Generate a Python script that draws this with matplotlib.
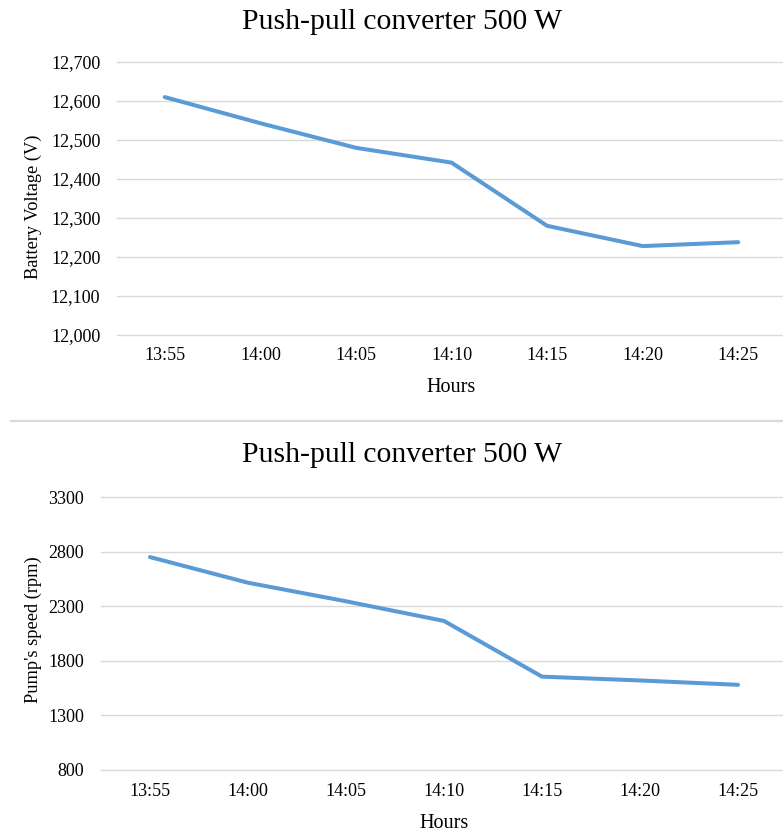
import matplotlib
matplotlib.use("Agg")
import matplotlib.pyplot as plt
from matplotlib.lines import Line2D
from matplotlib.ticker import FuncFormatter

plt.rcParams['font.family'] = ['Liberation Serif', 'DejaVu Serif']

times = ["13:55", "14:00", "14:05", "14:10", "14:15", "14:20", "14:25"]
voltage = [12610, 12543, 12480, 12442, 12280, 12228, 12238]
speed = [2750, 2515, 2345, 2165, 1655, 1620, 1580]
volt_ticks = [12000, 12100, 12200, 12300, 12400, 12500, 12600, 12700]
speed_ticks = [800, 1300, 1800, 2300, 2800, 3300]

W, H = 783, 833
fig = plt.figure(figsize=(W / 100, H / 100), dpi=100)

LINE_C = "#5B9BD5"
GRID_C = "#D9D9D9"


def px_axes(left, right, top, bottom):
    return fig.add_axes([left / W, 1 - bottom / H, (right - left) / W, (bottom - top) / H])


def style(ax, yticks):
    ax.set_ylim(yticks[0], yticks[-1])
    ax.set_yticks(yticks)
    ax.set_xlim(-0.5, len(times) - 0.5)
    ax.set_xticks(range(len(times)))
    ax.set_xticklabels(times)
    for s in ax.spines.values():
        s.set_visible(False)
    ax.tick_params(axis='both', length=0, labelsize=13)
    ax.tick_params(axis='y', pad=12)
    ax.tick_params(axis='x', pad=9)
    ax.grid(axis='y', color=GRID_C, linewidth=1.0)
    for gl in ax.get_ygridlines():
        gl.set_clip_on(False)
    ax.set_axisbelow(True)


ax1 = px_axes(117, 786, 62, 335)
ax1.plot(range(len(times)), voltage, color=LINE_C, linewidth=2.9,
         solid_capstyle='round', solid_joinstyle='round')
style(ax1, volt_ticks)
ax1.yaxis.set_major_formatter(FuncFormatter(lambda v, p: f"{int(v):,}"))

ax2 = px_axes(101, 787, 497, 770)
ax2.plot(range(len(times)), speed, color=LINE_C, linewidth=2.9,
         solid_capstyle='round', solid_joinstyle='round')
style(ax2, speed_ticks)

# titles
fig.text(402 / W, 1 - 22 / H, "Push-pull converter 500 W", ha='center', va='center', fontsize=21.3)
fig.text(402 / W, 1 - 455 / H, "Push-pull converter 500 W", ha='center', va='center', fontsize=21.3)

# axis labels
fig.text(451 / W, 1 - 388 / H, "Hours", ha='center', va='center', fontsize=14.5)
fig.text(444 / W, 1 - 823 / H, "Hours", ha='center', va='center', fontsize=14.5)
fig.text(33 / W, 1 - 207 / H, "Battery Voltage (V)", ha='center', va='center', rotation=90, fontsize=13.2)
fig.text(33 / W, 1 - 630 / H, "Pump's speed (rpm)", ha='center', va='center', rotation=90, fontsize=13.2)

# separator between the two charts
fig.add_artist(Line2D([11 / W, 1.0], [1 - 421 / H, 1 - 421 / H], transform=fig.transFigure,
                      color=GRID_C, linewidth=1.6))

fig.savefig("out.png", dpi=100)
